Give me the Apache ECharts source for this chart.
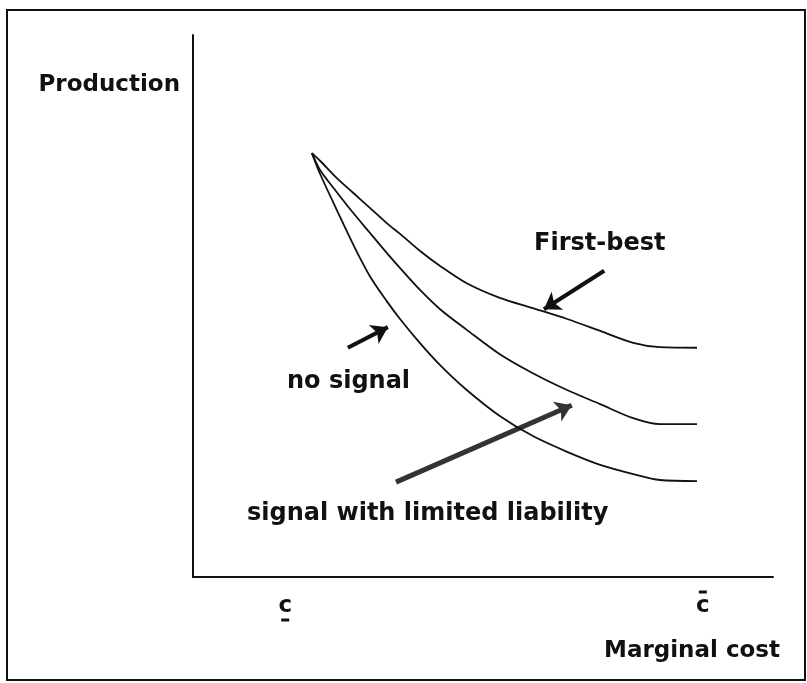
<!DOCTYPE html>
<html><head><meta charset="utf-8">
<script src="https://cdn.jsdelivr.net/npm/echarts@6/dist/echarts.min.js"></script>
<style>html,body{margin:0;padding:0;background:#fff}#c{width:807px;height:683px}</style>
</head><body><div id="c"></div>
<script>
// Marginal cost (x) grid, arbitrary units 0..100
const costX      = [20.5, 21.9, 24.8, 27.6, 30.5, 33.4, 35.7, 39.1, 42.6, 47.2, 52.9, 58.6, 64.5, 70.2, 75.9, 80.5, 86.9];
// Production (y), arbitrary units 0..100
const firstBest  = [78.2, 76.8, 73.6, 70.9, 68.1, 65.3, 63.3, 60.2, 57.4, 54.2, 51.5, 49.6, 47.6, 45.4, 43.2, 42.4, 42.3];
const limitedLiab= [78.2, 75.1, 71.0, 67.2, 63.5, 59.8, 57.0, 53.0, 49.4, 45.6, 41.1, 37.6, 34.5, 31.9, 29.3, 28.2, 28.2];
const noSignal   = [78.2, 74.4, 67.7, 61.4, 55.5, 50.9, 47.6, 43.2, 39.1, 34.5, 29.7, 26.0, 23.1, 20.7, 19.0, 17.9, 17.7];
// tick labels on the cost axis (lower bound c underlined, upper bound c overlined)
const tickValues = [15.9, 87.9];
const tickLabels = ['c', 'c'];
// curve annotations and anchor points (data units)
const curveLabels = ['First-best', 'no signal', 'signal with limited liability'];
const labelX = [58.8, 16.2, 9.3];
const labelY = [61.4, 36.0, 11.6];
// arrows: [tailX, tailY, tipX, tipY]
const arrowFirstBest = [70.9, 56.5, 60.5, 49.4];
const arrowNoSignal  = [26.7, 42.3, 33.6, 46.1];
const arrowLimited   = [35.0, 17.5, 65.3, 31.7];

const FONT = 'DejaVu Sans';
const zip = (xs, ys) => xs.map((x, i) => [x, ys[i]]);
const curveStyle = { type: 'line', smooth: 0.3, symbol: 'none',
  lineStyle: { color: '#111', width: 1.8 }, silent: true };

const chart = echarts.init(document.getElementById('c'), null, { renderer: 'canvas' });
chart.setOption({
  animation: false,
  backgroundColor: '#fff',
  grid: { left: 193, right: 34, top: 35, bottom: 106 },
  xAxis: {
    type: 'value', min: 0, max: 100,
    name: 'Marginal cost', nameLocation: 'end', nameGap: 7,
    nameTextStyle: { align: 'right', verticalAlign: 'top', padding: [63, 0, 0, 0],
      fontSize: 23, fontWeight: 'bold', fontFamily: FONT, color: '#111' },
    axisLine: { show: true, lineStyle: { color: '#111', width: 2 } },
    axisTick: { show: false },
    splitLine: { show: false },
    axisLabel: {
      customValues: tickValues, margin: 8,
      formatter: (v) => {
        const i = tickValues.indexOf(v);
        const t = tickLabels[i];
        return i === 0 ? '{s| }\n{c|' + t + '}\n{b| }' : '{b| }\n{c|' + t + '}\n{s| }';
      },
      rich: {
        c: { fontSize: 23, fontWeight: 'bold', fontFamily: FONT, color: '#111', lineHeight: 14 },
        b: { width: 8, height: 3, backgroundColor: '#111', lineHeight: 14 },
        s: { lineHeight: 14 }
      }
    }
  },
  yAxis: {
    type: 'value', min: 0, max: 100,
    name: 'Production', nameLocation: 'end', nameGap: -50,
    nameTextStyle: { align: 'right', verticalAlign: 'middle', padding: [0, 13, 0, 0],
      fontSize: 23, fontWeight: 'bold', fontFamily: FONT, color: '#111' },
    axisLine: { show: true, lineStyle: { color: '#111', width: 2 } },
    axisTick: { show: false }, axisLabel: { show: false }, splitLine: { show: false }
  },
  graphic: [{ type: 'rect', shape: { x: 7, y: 10, width: 798, height: 670 },
    style: { fill: 'none', stroke: '#111', lineWidth: 2 }, silent: true }],
  series: [
    Object.assign({ name: curveLabels[0], data: zip(costX, firstBest) }, curveStyle),
    Object.assign({ name: curveLabels[2], data: zip(costX, limitedLiab) }, curveStyle),
    Object.assign({ name: curveLabels[1], data: zip(costX, noSignal) }, curveStyle),
    {
      type: 'lines', coordinateSystem: 'cartesian2d', silent: true,
      symbol: ['none', 'arrow'], symbolSize: 16,
      lineStyle: { opacity: 1 },
      data: [
        { coords: [[arrowFirstBest[0], arrowFirstBest[1]], [arrowFirstBest[2], arrowFirstBest[3]]],
          lineStyle: { color: '#111', width: 4, opacity: 1 } },
        { coords: [[arrowNoSignal[0], arrowNoSignal[1]], [arrowNoSignal[2], arrowNoSignal[3]]],
          lineStyle: { color: '#111', width: 4, opacity: 1 } },
        { coords: [[arrowLimited[0], arrowLimited[1]], [arrowLimited[2], arrowLimited[3]]],
          lineStyle: { color: '#333', width: 5, opacity: 1 } }
      ]
    },
    {
      type: 'scatter', symbolSize: 0, silent: true,
      itemStyle: { opacity: 1 },
      data: curveLabels.map((n, i) => [labelX[i], labelY[i], n]),
      label: { show: true, position: 'right', distance: 0, opacity: 1,
        formatter: (p) => p.value[2],
        fontSize: 24, fontWeight: 'bold', fontFamily: FONT, color: '#111' }
    }
  ]
});
</script></body></html>
